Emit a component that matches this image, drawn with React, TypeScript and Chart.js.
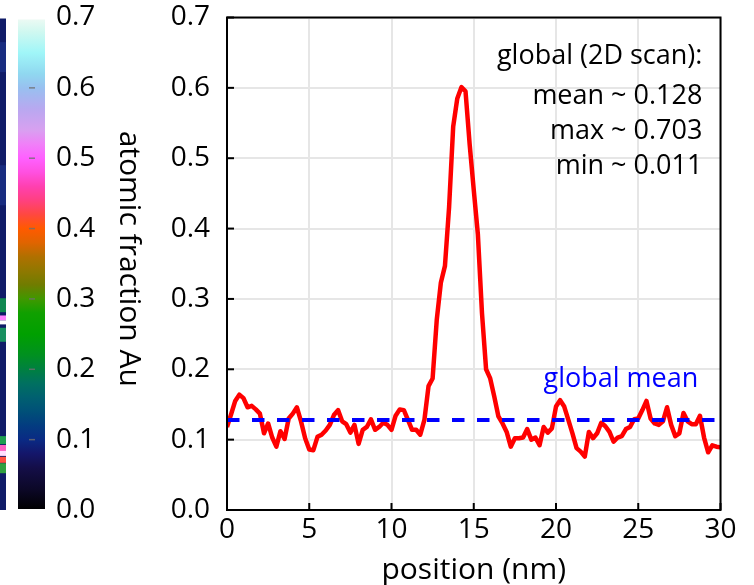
import React, { useEffect, useRef } from 'react';
import { Chart, registerables } from 'chart.js';

Chart.register(...registerables);

// ---------- data ----------
const POSITION_NM = [
  0, 0.25, 0.5, 0.75, 1, 1.25, 1.5, 1.75, 2, 2.25, 2.5, 2.75, 3, 3.25, 3.5, 3.75,
  4, 4.25, 4.5, 4.75, 5, 5.25, 5.5, 5.75, 6, 6.25, 6.5, 6.75, 7, 7.25, 7.5, 7.75,
  8, 8.25, 8.5, 8.75, 9, 9.25, 9.5, 9.75, 10, 10.25, 10.5, 10.75, 11, 11.25, 11.5, 11.75,
  12, 12.25, 12.5, 12.75, 13, 13.25, 13.5, 13.75, 14, 14.25, 14.5, 14.75, 15, 15.25, 15.5, 15.75,
  16, 16.25, 16.5, 16.75, 17, 17.25, 17.5, 17.75, 18, 18.25, 18.5, 18.75, 19, 19.25, 19.5, 19.75,
  20, 20.25, 20.5, 20.75, 21, 21.25, 21.5, 21.75, 22, 22.25, 22.5, 22.75, 23, 23.25, 23.5, 23.75,
  24, 24.25, 24.5, 24.75, 25, 25.25, 25.5, 25.75, 26, 26.25, 26.5, 26.75, 27, 27.25, 27.5, 27.75,
  28, 28.25, 28.5, 28.75, 29, 29.25, 29.5, 29.75, 30,
];
const AU_FRACTION = [
  0.118, 0.136, 0.155, 0.164, 0.159, 0.146, 0.148, 0.143, 0.137, 0.109, 0.123, 0.103, 0.090, 0.112, 0.101, 0.130,
  0.137, 0.146, 0.126, 0.102, 0.086, 0.085, 0.104, 0.107, 0.113, 0.121, 0.135, 0.142, 0.126, 0.122, 0.110, 0.121,
  0.094, 0.114, 0.118, 0.129, 0.114, 0.118, 0.124, 0.121, 0.114, 0.134, 0.143, 0.142, 0.128, 0.114, 0.114, 0.107,
  0.128, 0.176, 0.187, 0.270, 0.323, 0.347, 0.430, 0.545, 0.585, 0.601, 0.595, 0.520, 0.455, 0.392, 0.280, 0.200,
  0.187, 0.161, 0.133, 0.123, 0.111, 0.090, 0.102, 0.102, 0.103, 0.115, 0.100, 0.103, 0.092, 0.118, 0.110, 0.116,
  0.147, 0.156, 0.147, 0.128, 0.109, 0.088, 0.083, 0.076, 0.111, 0.102, 0.109, 0.124, 0.119, 0.111, 0.097, 0.103,
  0.105, 0.115, 0.118, 0.129, 0.130, 0.142, 0.155, 0.130, 0.123, 0.121, 0.126, 0.146, 0.121, 0.105, 0.109, 0.138,
  0.126, 0.122, 0.122, 0.134, 0.103, 0.082, 0.092, 0.090, 0.089,
];
const GLOBAL_MEAN = 0.128;
const X_TICKS = [0, 5, 10, 15, 20, 25, 30];
const X_TICK_LABELS = ['0', '5', '10', '15', '20', '25', '30'];
const Y_TICKS = [0, 0.1, 0.2, 0.3, 0.4, 0.5, 0.6, 0.7];
const Y_TICK_LABELS = ['0.0', '0.1', '0.2', '0.3', '0.4', '0.5', '0.6', '0.7'];
const CB_TICKS = [0, 0.1, 0.2, 0.3, 0.4, 0.5, 0.6, 0.7];
const CB_TICK_LABELS = ['0.0', '0.1', '0.2', '0.3', '0.4', '0.5', '0.6', '0.7'];
const CB_TITLE = 'atomic fraction Au';
const X_TITLE = 'position (nm)';
const STATS_LINES = ['global (2D scan):', 'mean ~ 0.128', 'max ~ 0.703', 'min ~ 0.011'];
const MEAN_LABEL = 'global mean';

// ---------- style ----------
const FONT = '"Open Sans", "Noto Sans", sans-serif';
const CMAP: [number, string][] = [
  [0.0, '#000000'], [0.03, '#0c0828'], [0.06, '#140e48'], [0.08, '#14166a'], [0.1, '#0a2a84'],
  [0.12, '#033c80'], [0.14, '#005078'], [0.16, '#006070'], [0.18, '#007060'], [0.2, '#008040'],
  [0.22, '#009020'], [0.25, '#00a000'], [0.28, '#10a000'], [0.3, '#409800'], [0.32, '#707c00'],
  [0.34, '#907800'], [0.36, '#b07000'], [0.38, '#e06400'], [0.4, '#ff5a00'], [0.42, '#ff4840'],
  [0.44, '#ff4080'], [0.46, '#ff40b0'], [0.48, '#ff50e0'], [0.5, '#ff60ff'], [0.52, '#f080f8'],
  [0.54, '#d8a0f0'], [0.57, '#b8a8f0'], [0.6, '#98c0f0'], [0.62, '#90d8f0'], [0.65, '#a0f6f8'],
  [0.68, '#d0f8f0'], [0.7, '#f0faf4'],
];
// decorative sliver of the 2D map at the far left: [fraction from top, height px, colour]
const MAP_SPOTS: [number, number, string][] = [
  [0.05, 30, '#182c80'], [0.3, 40, '#182c80'],
  [0.57, 14, '#108850'], [0.605, 5, '#ff80ff'], [0.615, 4, '#ffffff'], [0.63, 14, '#189060'],
  [0.85, 8, '#20a050'], [0.868, 6, '#ff60c0'], [0.88, 5, '#ffe0ff'],
  [0.892, 6, '#ff5040'], [0.905, 10, '#30a040'],
];

const decorPlugin = {
  id: 'decor',
  beforeDraw(chart: any) {
    const { ctx, scales } = chart;
    const y = scales.y;
    ctx.save();
    ctx.fillStyle = '#ffffff';
    ctx.fillRect(0, 0, chart.width, chart.height);
    const top = y.getPixelForValue(0.7);
    const bot = y.getPixelForValue(0);
    // 2D map sliver
    ctx.fillStyle = '#101c68';
    ctx.fillRect(0, top + 1, 6, bot - top - 1);
    MAP_SPOTS.forEach(([f, h, c]) => {
      ctx.fillStyle = c;
      ctx.fillRect(0, top + f * (bot - top), 6, h);
    });
    // colour bar
    const g = ctx.createLinearGradient(0, bot, 0, top);
    CMAP.forEach(([v, c]) => g.addColorStop(v / 0.7, c));
    ctx.fillStyle = g;
    ctx.fillRect(18, top + 2, 27, bot - top - 3);
    // colour bar ticks
    ctx.strokeStyle = 'rgba(110,110,110,0.8)';
    ctx.lineWidth = 1.5;
    CB_TICKS.forEach((v) => {
      if (v <= 0 || v >= 0.7) return;
      const py = y.getPixelForValue(v);
      ctx.beginPath();
      ctx.moveTo(29, py);
      ctx.lineTo(35, py);
      ctx.stroke();
    });
    // colour bar labels
    ctx.fillStyle = '#000';
    ctx.font = `28px ${FONT}`;
    ctx.textAlign = 'left';
    ctx.textBaseline = 'middle';
    CB_TICKS.forEach((v, i) => ctx.fillText(CB_TICK_LABELS[i], 56, y.getPixelForValue(v)));
    // colour bar title
    ctx.save();
    ctx.font = `30px ${FONT}`;
    ctx.translate(129, (top + bot) / 2 - 5);
    ctx.rotate(Math.PI / 2);
    ctx.textAlign = 'center';
    ctx.textBaseline = 'middle';
    ctx.fillText(CB_TITLE, 0, 0);
    ctx.restore();
    ctx.restore();
  },
  afterDatasetsDraw(chart: any) {
    const { ctx, chartArea: a, scales } = chart;
    const x = scales.x;
    const y = scales.y;
    ctx.save();
    // frame
    ctx.strokeStyle = '#000';
    ctx.lineWidth = 2;
    ctx.strokeRect(a.left, a.top, a.right - a.left, a.bottom - a.top);
    // inward ticks
    Y_TICKS.forEach((v) => {
      const py = y.getPixelForValue(v);
      ctx.beginPath();
      ctx.moveTo(a.left, py);
      ctx.lineTo(a.left + 7, py);
      ctx.stroke();
    });
    X_TICKS.forEach((v) => {
      const px = x.getPixelForValue(v);
      ctx.beginPath();
      ctx.moveTo(px, a.bottom);
      ctx.lineTo(px, a.bottom - 7);
      ctx.stroke();
    });
    // stats text
    ctx.fillStyle = '#000';
    ctx.font = `27px ${FONT}`;
    ctx.textAlign = 'right';
    ctx.textBaseline = 'alphabetic';
    const rx = x.getPixelForValue(28.9);
    const baselines = [64, 104, 139, 174];
    STATS_LINES.forEach((t, i) => ctx.fillText(t, rx, baselines[i]));
    // mean label
    ctx.fillStyle = '#0000ff';
    ctx.fillText(MEAN_LABEL, x.getPixelForValue(28.65), 387);
    ctx.restore();
  },
};

export default function App() {
  const ref = useRef<HTMLCanvasElement | null>(null);
  useEffect(() => {
    if (!ref.current) return;
    const chart = new Chart(ref.current, {
      type: 'line',
      data: {
        datasets: [
          {
            label: 'global mean',
            data: [{ x: 0, y: GLOBAL_MEAN }, { x: 30, y: GLOBAL_MEAN }],
            borderColor: '#0000ff',
            borderWidth: 4,
            borderDash: [12.5, 12.5],
            pointRadius: 0,
            order: 0,
          },
          {
            label: 'profile',
            data: POSITION_NM.map((px, i) => ({ x: px, y: AU_FRACTION[i] })),
            borderColor: '#ff0000',
            borderWidth: 4.5,
            pointRadius: 0,
            tension: 0,
            borderJoinStyle: 'round',
            order: 1,
          },
        ],
      } as any,
      options: {
        animation: false,
        responsive: false,
        events: [],
        layout: { padding: { left: 0, right: 33.5, top: 0, bottom: 0 } },
        plugins: { legend: { display: false }, tooltip: { enabled: false } },
        scales: {
          x: {
            type: 'linear',
            min: 0,
            max: 30,
            afterBuildTicks: (s: any) => { s.ticks = X_TICKS.map((v) => ({ value: v })); },
            afterFit: (s: any) => { s.height = 75; },
            ticks: {
              font: { family: FONT, size: 28 },
              color: '#000',
              padding: 3,
              maxRotation: 0,
              autoSkip: false,
              callback: (_v: any, i: number) => X_TICK_LABELS[i],
            },
            grid: { color: '#e6e6e6', lineWidth: 2, drawTicks: false },
            border: { display: false },
            title: {
              display: true,
              text: X_TITLE,
              color: '#000',
              font: { family: FONT, size: 30 },
              padding: { top: 0, bottom: -3 },
            },
          },
          y: {
            type: 'linear',
            min: 0,
            max: 0.7,
            afterBuildTicks: (s: any) => { s.ticks = Y_TICKS.map((v) => ({ value: v })); },
            afterFit: (s: any) => {
              s.width = 227;
              s.paddingTop = 17.5;
              s.paddingBottom = 0;
            },
            ticks: {
              font: { family: FONT, size: 28 },
              color: '#000',
              padding: 17,
              autoSkip: false,
              callback: (_v: any, i: number) => Y_TICK_LABELS[i],
            },
            grid: { color: '#e6e6e6', lineWidth: 2, drawTicks: false },
            border: { display: false },
          },
        },
      } as any,
      plugins: [decorPlugin],
    });
    return () => chart.destroy();
  }, []);
  return (
    <div style={{ position: 'absolute', left: 0, top: 0, width: 754, height: 585 }}>
      <canvas ref={ref} width={754} height={585} style={{ display: 'block' }} />
    </div>
  );
}
